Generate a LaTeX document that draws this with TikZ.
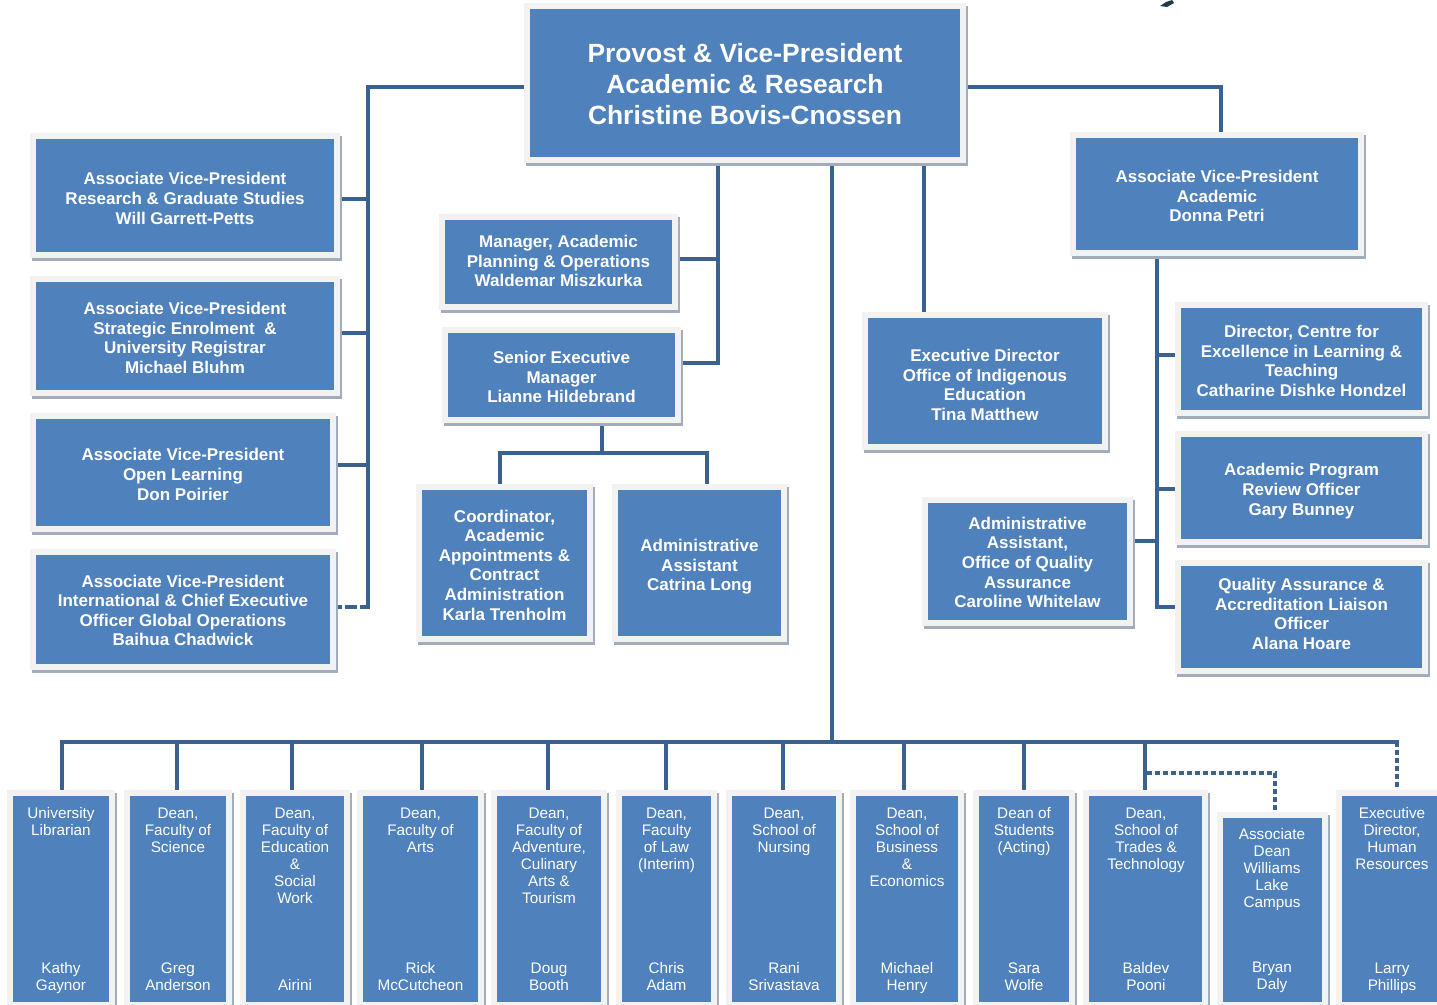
\documentclass[tikz,border=0pt]{standalone}
\usepackage{fontspec}
\setmainfont{Liberation Sans}
\pgfdeclarelayer{bg}
\pgfsetlayers{bg,main}
\definecolor{boxblue}{HTML}{4F81BD}
\definecolor{framec}{HTML}{F2F2F2}
\definecolor{shadowc}{HTML}{A3ACBA}
\definecolor{connc}{HTML}{3A6190}
\definecolor{markc}{HTML}{1F3A4D}
\newcommand\orgbox[7]{%
  \pgfmathsetmacro\obw{#4-#2-12}%
  \pgfmathsetmacro\obh{#5-#3-12}%
  \fill[shadowc] ({#2+2},{#3+3}) rectangle ({#4+2},{#5+3});
  \fill[framec] (#2,#3) rectangle (#4,#5);
  \fill[boxblue] ({#2+6},{#3+6}) rectangle ({#4-6},{#5-6});
  \node[ibox, minimum width=\obw pt, minimum height=\obh pt, #6] (#1) at ({(#2+#4)/2},{(#3+#5)/2}) {#7};
}
\begin{document}
\begin{tikzpicture}[x=1pt,y=-1pt,
  ibox/.style={text=white, align=center, inner sep=0pt,
    font={\fontsize{17}{19.6}\selectfont\bfseries}},
  bigtext/.style={font={\fontsize{26.4}{31}\selectfont\bfseries}},
  btext/.style={text=white, align=center, inner sep=0pt,
    font={\fontsize{15.3}{17}\selectfont}},
  conn/.style={draw=connc, line width=4pt, line cap=rect, line join=miter},
  dashc/.style={draw=connc, line width=4pt, dash pattern=on 12pt off 3pt},
  dotc/.style={draw=connc, line width=4pt, dash pattern=on 5pt off 3pt}]
\useasboundingbox (0,0) rectangle (1437,1004);
\begin{pgfonlayer}{bg}
\fill[white] (0,0) rectangle (1437,1004);
\end{pgfonlayer}

% stray mark at the top
\fill[markc] (1160,6) -- (1166,2) -- (1172,0) -- (1174,3) -- (1167,7) -- cycle;

% boxes
\orgbox{provost}{524}{3}{966}{163}{bigtext, yshift=-1pt}{Provost \& Vice-President\\Academic \& Research\\Christine Bovis-Cnossen}
\orgbox{avp1}{30}{133}{340}{258}{yshift=-3pt}{Associate Vice-President\\Research \& Graduate Studies\\Will Garrett-Petts}
\orgbox{avp2}{30}{276}{340}{396}{yshift=-2pt}{Associate Vice-President\\Strategic Enrolment \ \&\\University Registrar\\Michael Bluhm}
\orgbox{avp3}{30}{413}{336}{532}{yshift=-2pt}{Associate Vice-President\\Open Learning\\Don Poirier}
\orgbox{avp4}{30}{549}{336}{670}{yshift=-1pt}{Associate Vice-President\\International \& Chief Executive\\Officer Global Operations\\Baihua Chadwick}
\orgbox{mgr}{439}{214}{678}{310}{yshift=1pt}{Manager, Academic\\Planning \& Operations\\Waldemar Miszkurka}
\orgbox{sem}{442}{327}{681}{423}{yshift=-2pt}{Senior Executive\\Manager\\Lianne Hildebrand}
\orgbox{coord}{416}{484}{593}{642}{yshift=-2pt}{Coordinator,\\Academic\\Appointments \&\\Contract\\Administration\\Karla Trenholm}
\orgbox{catr}{612}{484}{787}{642}{yshift=-4pt}{Administrative\\Assistant\\Catrina Long}
\orgbox{indig}{862}{312}{1108}{450}{yshift=-4pt}{Executive Director\\Office of Indigenous\\Education\\Tina Matthew}
\orgbox{aqa}{922}{497}{1133}{626}{yshift=-1pt}{Administrative\\Assistant,\\Office of Quality\\Assurance\\Caroline Whitelaw}
\orgbox{avpA}{1070}{132}{1364}{256}{yshift=-2pt}{Associate Vice-President\\Academic\\Donna Petri}
\orgbox{celt}{1175}{302}{1428}{416}{yshift=-2pt}{Director, Centre for\\Excellence in Learning \&\\Teaching\\Catharine Dishke Hondzel}
\orgbox{apr}{1175}{431}{1428}{545}{yshift=-3pt}{Academic Program\\Review Officer\\Gary Bunney}
\orgbox{qa}{1175}{560}{1428}{674}{yshift=3pt}{Quality Assurance \&\\Accreditation Liaison\\Officer\\Alana Hoare}

% bottom row
\orgbox{b1}{7}{790}{115}{1008}{}{}
\orgbox{b2}{124}{790}{232}{1008}{}{}
\orgbox{b3}{240}{790}{350}{1008}{}{}
\orgbox{b4}{357}{790}{484}{1008}{}{}
\orgbox{b5}{491}{790}{607}{1008}{}{}
\orgbox{b6}{616}{790}{717}{1008}{}{}
\orgbox{b7}{726}{790}{842}{1008}{}{}
\orgbox{b8}{850}{790}{964}{1008}{}{}
\orgbox{b9}{973}{790}{1075}{1008}{}{}
\orgbox{b10}{1083}{790}{1208}{1008}{}{}
\orgbox{b11}{1217}{812}{1328}{1008}{}{}
\orgbox{b12}{1336}{790}{1446}{1008}{}{}

\node[btext, anchor=north] (b1t) at (61,807.5) {University\\Librarian};
\node[btext, anchor=north] (b1n) at (61,962.5) {Kathy\\Gaynor};
\node[btext, anchor=north] (b2t) at (178,807.5) {Dean,\\Faculty of\\Science};
\node[btext, anchor=north] (b2n) at (178,962.5) {Greg\\Anderson};
\node[btext, anchor=north] (b3t) at (295,807.5) {Dean,\\Faculty of\\Education\\\&\\Social\\Work};
\node[btext, anchor=north] (b3n) at (295,979.5) {Airini};
\node[btext, anchor=north] (b4t) at (420.5,807.5) {Dean,\\Faculty of\\Arts};
\node[btext, anchor=north] (b4n) at (420.5,962.5) {Rick\\McCutcheon};
\node[btext, anchor=north] (b5t) at (549,807.5) {Dean,\\Faculty of\\Adventure,\\Culinary\\Arts \&\\Tourism};
\node[btext, anchor=north] (b5n) at (549,962.5) {Doug\\Booth};
\node[btext, anchor=north] (b6t) at (666.5,807.5) {Dean,\\Faculty\\of Law\\(Interim)};
\node[btext, anchor=north] (b6n) at (666.5,962.5) {Chris\\Adam};
\node[btext, anchor=north] (b7t) at (784,807.5) {Dean,\\School of\\Nursing};
\node[btext, anchor=north] (b7n) at (784,962.5) {Rani\\Srivastava};
\node[btext, anchor=north] (b8t) at (907,807.5) {Dean,\\School of\\Business\\\&\\Economics};
\node[btext, anchor=north] (b8n) at (907,962.5) {Michael\\Henry};
\node[btext, anchor=north] (b9t) at (1024,807.5) {Dean of\\Students\\(Acting)};
\node[btext, anchor=north] (b9n) at (1024,962.5) {Sara\\Wolfe};
\node[btext, anchor=north] (b10t) at (1146,807.5) {Dean,\\School of\\Trades \&\\Technology};
\node[btext, anchor=north] (b10n) at (1146,962.5) {Baldev\\Pooni};
\node[btext, anchor=north] (b11t) at (1272,828.5) {Associate\\Dean\\Williams\\Lake\\Campus};
\node[btext, anchor=north] (b11n) at (1272,961.5) {Bryan\\Daly};
\node[btext, anchor=north] (b12t) at (1392,807.5) {Executive\\Director,\\Human\\Resources};
\node[btext, anchor=north] (b12n) at (1392,962.5) {Larry\\Phillips};

% connector points
\coordinate (lbus) at (368,607);
\coordinate (j1) at (368,199);
\coordinate (j2) at (368,333);
\coordinate (j3) at (368,465);
\coordinate (rt) at (1221,87);
\coordinate (rb) at (1157,607);
\coordinate (r1) at (1157,355);
\coordinate (r2) at (1157,489);
\coordinate (r3) at (1157,541);
\coordinate (m1) at (718,259);
\coordinate (m2) at (718,363);
\coordinate (s1) at (602,453);
\coordinate (sl) at (500,453);
\coordinate (sr) at (707,453);
\coordinate (iv) at (924,300);
\coordinate (tb) at (832,742);
\coordinate (br) at (1397,742);
\coordinate (d1) at (62,742);
\coordinate (d2) at (177,742);
\coordinate (d3) at (292,742);
\coordinate (d4) at (422,742);
\coordinate (d5) at (548,742);
\coordinate (d6) at (666,742);
\coordinate (d7) at (783,742);
\coordinate (d8) at (904,742);
\coordinate (d9) at (1024,742);
\coordinate (d10) at (1145,742);
\coordinate (dt) at (1147,773);
\coordinate (dc) at (1275,773);
\coordinate (pw) at (530,87);

\begin{pgfonlayer}{bg}
% left tree
\draw[conn] (provost.west |- pw) -| (lbus);
\draw[conn] (j1) -- (avp1.east |- j1);
\draw[conn] (j2) -- (avp2.east |- j2);
\draw[conn] (j3) -- (avp3.east |- j3);
\draw[dashc] (avp4.east |- lbus) -- (lbus);
% right tree
\draw[conn] (provost.east |- rt) -- (rt) -- (rt |- avpA.north);
\draw[conn] (avpA.south -| rb) -- (rb) -- (qa.west |- rb);
\draw[conn] (r1) -- (celt.west |- r1);
\draw[conn] (r2) -- (apr.west |- r2);
\draw[conn] (r3) -- (aqa.east |- r3);
% middle
\draw[conn] (provost.south -| m2) -- (m2) -- (sem.east |- m2);
\draw[conn] (m1) -- (mgr.east |- m1);
\draw[conn] (sem.south -| s1) -- (s1);
\draw[conn] (coord.north -| sl) -- (sl) -- (sr) -- (catr.north -| sr);
\draw[conn] (provost.south -| iv) -- (indig.north -| iv);
% trunk and bottom bus
\draw[conn] (provost.south -| tb) -- (tb);
\draw[conn] (b1.north -| d1) -- (d1) -- (br);
\draw[conn] (d2) -- (b2.north -| d2);
\draw[conn] (d3) -- (b3.north -| d3);
\draw[conn] (d4) -- (b4.north -| d4);
\draw[conn] (d5) -- (b5.north -| d5);
\draw[conn] (d6) -- (b6.north -| d6);
\draw[conn] (d7) -- (b7.north -| d7);
\draw[conn] (d8) -- (b8.north -| d8);
\draw[conn] (d9) -- (b9.north -| d9);
\draw[conn] (d10) -- (b10.north -| d10);
\draw[dotc] (dt) -- (dc) -- (b11.north -| dc);
\draw[dotc] (br) -- (b12.north -| br);
\end{pgfonlayer}
\end{tikzpicture}
\end{document}
